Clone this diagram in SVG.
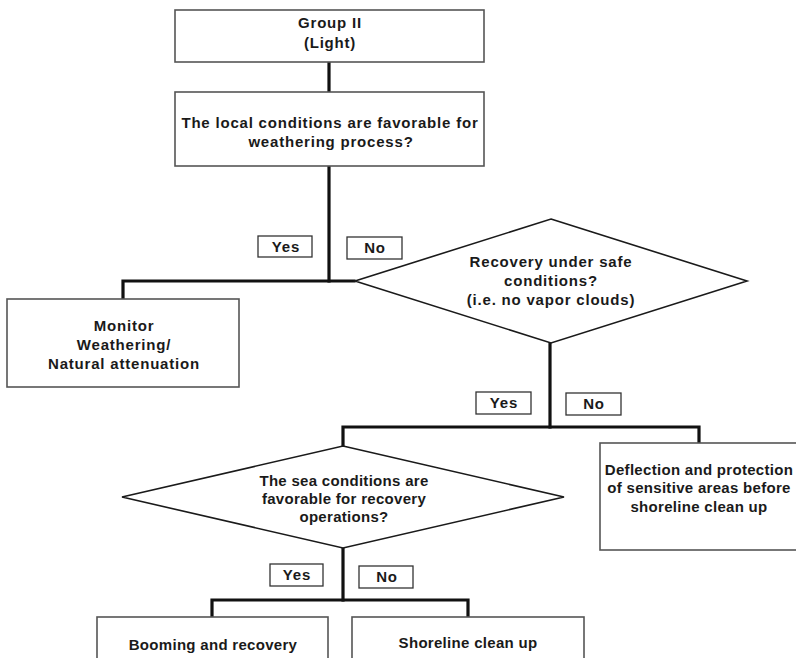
<svg xmlns="http://www.w3.org/2000/svg" width="796" height="658" viewBox="0 0 796 658">
  <style>
    .box { fill: #ffffff; stroke: #555555; stroke-width: 1.6; }
    .tag { fill: #ffffff; stroke: #333333; stroke-width: 1.3; }
    .dia { fill: #ffffff; stroke: #1a1a1a; stroke-width: 1.6; stroke-linejoin: miter; }
    .wire { fill: none; stroke: #111111; stroke-width: 3.2; stroke-linecap: square; stroke-linejoin: miter; }
    text { font-family: "Liberation Sans", Arial, sans-serif; font-weight: bold; font-size: 15px; fill: #1a1a1a; text-anchor: middle; }
    .wide { letter-spacing: 0.8px; }
    .mid { letter-spacing: 0.3px; }
  </style>
  <rect width="796" height="658" fill="#ffffff"/>

  <!-- connectors -->
  <g id="connectors">
    <path class="wire" d="M329,62 V92"/>
    <path class="wire" d="M329,166 V281"/>
    <path class="wire" d="M123,299 V281 H354"/>
    <path class="wire" d="M550,343 V427"/>
    <path class="wire" d="M343,446 V427 H699 V443"/>
    <path class="wire" d="M343,548 V600"/>
    <path class="wire" d="M212,617 V600 H468 V617"/>
  </g>

  <!-- nodes -->
  <g id="group-ii">
    <rect class="box" x="175" y="10" width="309" height="52"/>
    <text class="wide" x="330" y="28">Group II</text>
    <text class="wide" x="330" y="48">(Light)</text>
  </g>

  <g id="local-conditions">
    <rect class="box" x="175" y="92" width="309" height="74"/>
    <text class="wide" x="330" y="128">The local conditions are favorable for</text>
    <text class="wide" x="331" y="147">weathering process?</text>
  </g>

  <g id="monitor">
    <rect class="box" x="7" y="299" width="232" height="88"/>
    <text class="wide" x="124" y="331">Monitor</text>
    <text class="wide" x="124" y="350">Weathering/</text>
    <text class="wide" x="124" y="369">Natural attenuation</text>
  </g>

  <g id="safe-recovery">
    <polygon class="dia" points="551,219 747,281 551,343 355,281"/>
    <text class="wide" x="551" y="267">Recovery under safe</text>
    <text class="wide" x="551" y="286">conditions?</text>
    <text class="wide" x="551" y="305">(i.e. no vapor clouds)</text>
  </g>

  <g id="deflection">
    <rect class="box" x="600" y="443" width="200" height="107"/>
    <text class="mid" x="699" y="475">Deflection and protection</text>
    <text class="mid" x="699" y="493">of sensitive areas before</text>
    <text class="mid" x="699" y="512">shoreline clean up</text>
  </g>

  <g id="sea-conditions">
    <polygon class="dia" points="343,446 564,497 343,548 122,497"/>
    <text class="mid" x="344" y="486">The sea conditions are</text>
    <text class="mid" x="344" y="504">favorable for recovery</text>
    <text class="mid" x="344" y="522">operations?</text>
  </g>

  <g id="booming">
    <rect class="box" x="97" y="617" width="231" height="60"/>
    <text class="mid" x="213" y="650">Booming and recovery</text>
  </g>

  <g id="shoreline">
    <rect class="box" x="352" y="617" width="232" height="60"/>
    <text class="mid" x="468" y="648">Shoreline clean up</text>
  </g>

  <!-- branch labels -->
  <g id="yes-1"><rect class="tag" x="258" y="236" width="54" height="21"/><text class="wide" x="286" y="252">Yes</text></g>
  <g id="no-1"><rect class="tag" x="347" y="237" width="55" height="22"/><text class="wide" x="375" y="253">No</text></g>
  <g id="yes-2"><rect class="tag" x="476" y="392" width="55" height="22"/><text class="wide" x="504" y="408">Yes</text></g>
  <g id="no-2"><rect class="tag" x="566" y="393" width="55" height="22"/><text class="wide" x="594" y="409">No</text></g>
  <g id="yes-3"><rect class="tag" x="270" y="564" width="53" height="22"/><text class="wide" x="297" y="580">Yes</text></g>
  <g id="no-3"><rect class="tag" x="359" y="566" width="54" height="22"/><text class="wide" x="387" y="582">No</text></g>
</svg>
